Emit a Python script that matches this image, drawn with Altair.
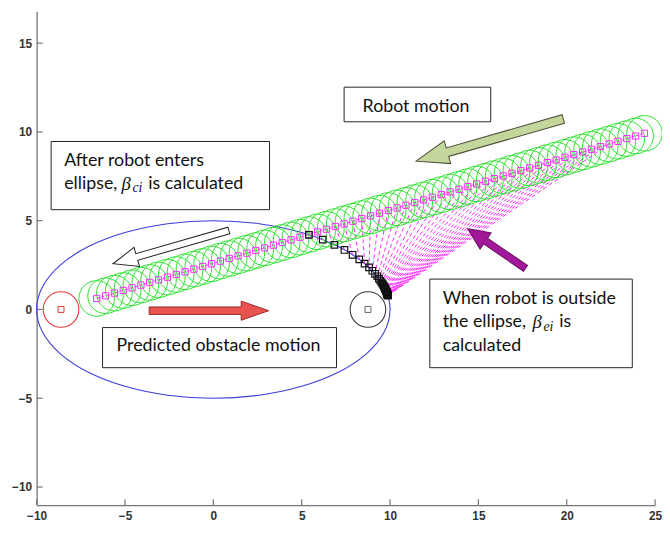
import altair as alt
import pandas as pd

# ---------------- data ----------------
robot_x = [-6.6, -6.1, -5.6, -5.1, -4.6, -4.1, -3.6, -3.1, -2.6, -2.1,
           -1.6, -1.1, -0.6, -0.1, 0.4, 0.9, 1.4, 1.9, 2.4, 2.9,
           3.4, 3.9, 4.4, 4.9, 5.4, 5.9, 6.4, 6.9, 7.4, 7.9,
           8.4, 8.9, 9.4, 9.9, 10.4, 10.9, 11.4, 11.9, 12.4, 12.9,
           13.4, 13.9, 14.4, 14.9, 15.4, 15.9, 16.4, 16.9, 17.4, 17.9,
           18.4, 18.9, 19.4, 19.9, 20.4, 20.9, 21.4, 21.9, 22.4, 22.9,
           23.4, 23.9, 24.4]
robot_y = [0.62, 0.77, 0.92, 1.07, 1.22, 1.37, 1.52, 1.67, 1.82, 1.97,
           2.12, 2.27, 2.42, 2.57, 2.72, 2.87, 3.02, 3.17, 3.32, 3.47,
           3.62, 3.77, 3.92, 4.07, 4.22, 4.37, 4.52, 4.67, 4.82, 4.97,
           5.12, 5.27, 5.42, 5.57, 5.72, 5.87, 6.02, 6.17, 6.32, 6.47,
           6.62, 6.77, 6.92, 7.07, 7.22, 7.37, 7.52, 7.67, 7.82, 7.97,
           8.12, 8.27, 8.42, 8.57, 8.72, 8.87, 9.02, 9.17, 9.32, 9.47,
           9.62, 9.77, 9.92]

# points on the ellipse (beta_ei) for robot positions outside the ellipse
first_outside = 24
beta_x = [5.41, 6.19, 6.85, 7.42, 7.88, 8.26, 8.56, 8.81, 9.00, 9.15,
          9.28, 9.37, 9.45, 9.52, 9.57, 9.62, 9.65, 9.68, 9.71, 9.73,
          9.75, 9.77, 9.78, 9.80, 9.81, 9.82, 9.83, 9.84, 9.84, 9.85,
          9.86, 9.86, 9.87, 9.87, 9.88]
beta_y = [4.20, 3.93, 3.64, 3.35, 3.08, 2.82, 2.58, 2.37, 2.18, 2.01,
          1.87, 1.74, 1.63, 1.53, 1.45, 1.37, 1.31, 1.25, 1.20, 1.15,
          1.11, 1.07, 1.03, 1.00, 0.97, 0.95, 0.92, 0.90, 0.88, 0.86,
          0.84, 0.83, 0.81, 0.80, 0.78]

ellipse_x = [10, 9.66, 8.66, 7.07, 5.0, 2.59, 0, -2.59, -5.0, -7.07, -8.66, -9.66,
             -10, -9.66, -8.66, -7.07, -5.0, -2.59, 0, 2.59, 5.0, 7.07, 8.66, 9.66]
ellipse_y = [0, 1.29, 2.5, 3.54, 4.33, 4.83, 5, 4.83, 4.33, 3.54, 2.5, 1.29,
             0, -1.29, -2.5, -3.54, -4.33, -4.83, -5, -4.83, -4.33, -3.54, -2.5, -1.29]

obstacle_x = [-8.62, 8.75]
obstacle_y = [0.0, 0.0]
obstacle_ring = ["#e23a3a", "#3a3a3a"]
obstacle_core = ["#e23a3a", "#666666"]

x_ticks = [-10, -5, 0, 5, 10, 15, 20, 25]
y_ticks = [-10, -5, 0, 5, 10, 15]

# annotation boxes (data coordinates)
box_x0 = [-9.18, 7.40, 12.25, -6.27]
box_x1 = [3.18, 15.70, 23.71, 6.97]
box_y0 = [9.46, 12.52, 1.71, -1.02]
box_y1 = [5.62, 10.57, -3.28, -3.28]

# plain annotation text
txt_label = ["After robot enters", "ellipse,", "is calculated", "Robot motion",
             "When robot is outside", "the ellipse,", "is", "calculated",
             "Predicted obstacle motion"]
txt_x = [-8.44, -8.44, -3.68, 11.47, 12.98, 12.98, 19.57, 12.98, 0.29]
txt_y = [8.35, 7.07, 7.07, 11.41, 0.61, -0.72, -0.72, -2.06, -2.08]
txt_align = ["left", "left", "left", "center", "left", "left", "left", "left", "center"]

# greek symbol and subscripts
beta_label = ["β", "β"]
beta_tx = [-5.20, 18.06]
beta_ty = [7.07, -0.72]
sub_label = ["ci", "ei"]
sub_tx = [-4.58, 18.68]
sub_ty = [6.82, -0.97]

# arrows
arrow_x = [15.64, -2.40, -0.25, 16.03]
arrow_y = [9.54, 3.51, -0.07, 3.43]
arrow_angle = [164, 164, 0, 214.4]
arrow_len = [155, 122, 121, 71]
arrow_fill = ["#c3d69b", "#ffffff", "#e8524f", "#a3179b"]
arrow_stroke = ["#4d4d3a", "#222222", "#9a2a28", "#6a0f64"]
arrow_path = [
    "M -1 -0.058 L 0.574 -0.058 L 0.574 -0.155 L 1 0 L 0.574 0.155 L 0.574 0.058 L -1 0.058 Z",
    "M -1 -0.057 L 0.59 -0.057 L 0.59 -0.164 L 1 0 L 0.59 0.164 L 0.59 0.057 L -1 0.057 Z",
    "M -1 -0.063 L 0.54 -0.063 L 0.54 -0.16 L 1 0 L 0.54 0.16 L 0.54 0.063 L -1 0.063 Z",
    "M -1 -0.1 L 0.38 -0.1 L 0.38 -0.28 L 1 0 L 0.38 0.28 L 0.38 0.1 L -1 0.1 Z",
]

# ---------------- tables ----------------
robot = pd.DataFrame({"x": robot_x, "y": robot_y, "i": list(range(len(robot_x)))})
n_out = len(beta_x)
fan = pd.DataFrame({
    "x": robot_x[first_outside:first_outside + n_out],
    "y": robot_y[first_outside:first_outside + n_out],
    "x2": beta_x, "y2": beta_y,
})
beta_pts = pd.DataFrame({"x": beta_x, "y": beta_y})
ellipse = pd.DataFrame({"x": ellipse_x, "y": ellipse_y, "o": list(range(len(ellipse_x)))})
obst = pd.DataFrame({"x": obstacle_x, "y": obstacle_y, "ring": obstacle_ring, "core": obstacle_core})
xt = pd.DataFrame({"x": x_ticks})
yt = pd.DataFrame({"y": y_ticks})
boxes = pd.DataFrame({"x": box_x0, "x2": box_x1, "y": box_y0, "y2": box_y1})
texts = pd.DataFrame({"x": txt_x, "y": txt_y, "t": txt_label, "a": txt_align})
betas = pd.DataFrame({"x": beta_tx, "y": beta_ty, "t": beta_label})
subs = pd.DataFrame({"x": sub_tx, "y": sub_ty, "t": sub_label})
arrows = pd.DataFrame({
    "x": arrow_x, "y": arrow_y, "angle": arrow_angle,
    "size": [L * L for L in arrow_len], "fill": arrow_fill,
    "stroke": arrow_stroke, "path": arrow_path,
})

W, H = 626, 500
xs = alt.Scale(domain=[-10, 25], nice=False, zero=False)
ys = alt.Scale(domain=[-11.02, 16.8], nice=False, zero=False)

X = alt.X("x:Q", scale=xs, title=None,
          axis=alt.Axis(values=x_ticks, labelPadding=6, labelFlush=False))
Y = alt.Y("y:Q", scale=ys, title=None,
          axis=alt.Axis(values=y_ticks, labelPadding=5))
Xp = alt.X("x:Q", scale=xs)
Yp = alt.Y("y:Q", scale=ys)

MAG = "#ff2bff"

ell = alt.Chart(ellipse).mark_line(
    color="#3d3dd8", strokeWidth=1.1, interpolate="cardinal-closed"
).encode(x=X, y=Y, order="o:Q")

fan_lines = alt.Chart(fan).mark_rule(
    color=MAG, strokeWidth=1, strokeDash=[4, 3]
).encode(x=Xp, y=Yp, x2="x2:Q", y2="y2:Q")

green = alt.Chart(robot).mark_point(
    shape="circle", size=1296, color="#2ee22e", strokeWidth=1, opacity=1, filled=False
).encode(x=Xp, y=Yp)

path_line = alt.Chart(robot).mark_line(
    color=MAG, strokeWidth=1, strokeDash=[3, 2]
).encode(x=Xp, y=Yp, order="i:Q")

path_sq = alt.Chart(robot).mark_point(
    shape="square", size=40, color=MAG, strokeWidth=1, opacity=1, filled=False
).encode(x=Xp, y=Yp)

beta_sq = alt.Chart(beta_pts).mark_point(
    shape="square", size=44, color="#111111", strokeWidth=1.2, opacity=1, filled=False
).encode(x=Xp, y=Yp)

obst_ring = alt.Chart(obst).mark_point(
    shape="circle", size=1296, strokeWidth=1.1, opacity=1, filled=False
).encode(x=Xp, y=Yp, stroke=alt.Stroke("ring:N", scale=None))

obst_core = alt.Chart(obst).mark_point(
    shape="square", size=36, strokeWidth=1, opacity=1, filled=False
).encode(x=Xp, y=Yp, stroke=alt.Stroke("core:N", scale=None))

xtick = alt.Chart(xt).mark_rule(color="#777777", strokeWidth=1.2).encode(
    x=Xp, y=alt.value(H), y2=alt.value(H - 6))
ytick = alt.Chart(yt).mark_rule(color="#777777", strokeWidth=1.2).encode(
    y=Yp, x=alt.value(0), x2=alt.value(6))

box_layer = alt.Chart(boxes).mark_rect(
    fill="white", stroke="#222222", strokeWidth=1
).encode(x=Xp, x2="x2:Q", y=Yp, y2="y2:Q")

txt_left = alt.Chart(texts).transform_filter(alt.datum.a == "left").mark_text(
    font="Lato", fontSize=18, color="#111111", align="left", baseline="middle"
).encode(x=Xp, y=Yp, text="t:N")
txt_center = alt.Chart(texts).transform_filter(alt.datum.a == "center").mark_text(
    font="Lato", fontSize=18, color="#111111", align="center", baseline="middle"
).encode(x=Xp, y=Yp, text="t:N")
beta_txt = alt.Chart(betas).mark_text(
    font="Liberation Serif", fontStyle="italic", fontSize=19, color="#111111",
    align="left", baseline="middle"
).encode(x=Xp, y=Yp, text="t:N")
sub_txt = alt.Chart(subs).mark_text(
    font="Liberation Serif", fontStyle="italic", fontSize=14, color="#111111",
    align="left", baseline="middle"
).encode(x=Xp, y=Yp, text="t:N")

arrow_layer = alt.Chart(arrows).mark_point(
    filled=True, opacity=1, strokeWidth=1
).encode(
    x=Xp, y=Yp,
    shape=alt.Shape("path:N", scale=None),
    size=alt.Size("size:Q", scale=None),
    angle=alt.Angle("angle:Q", scale=None),
    fill=alt.Fill("fill:N", scale=None),
    stroke=alt.Stroke("stroke:N", scale=None),
)

chart = alt.layer(
    ell, fan_lines, green, path_line, path_sq, beta_sq, obst_ring, obst_core,
    xtick, ytick, box_layer, txt_left, txt_center, beta_txt, sub_txt, arrow_layer
).properties(
    width=W, height=H,
    autosize=alt.AutoSizeParams(type="none"),
    padding={"left": 29, "top": 0, "right": 7, "bottom": 24},
).configure_view(stroke=None).configure_axis(
    grid=False, ticks=False, tickSize=0, domainColor="#777777", domainWidth=1.3,
    labelFont="Liberation Sans", labelFontWeight="bold", labelFontSize=12,
    labelColor="#333333",
)

chart.save("out.html", embed_options={"renderer": "svg", "actions": False})
